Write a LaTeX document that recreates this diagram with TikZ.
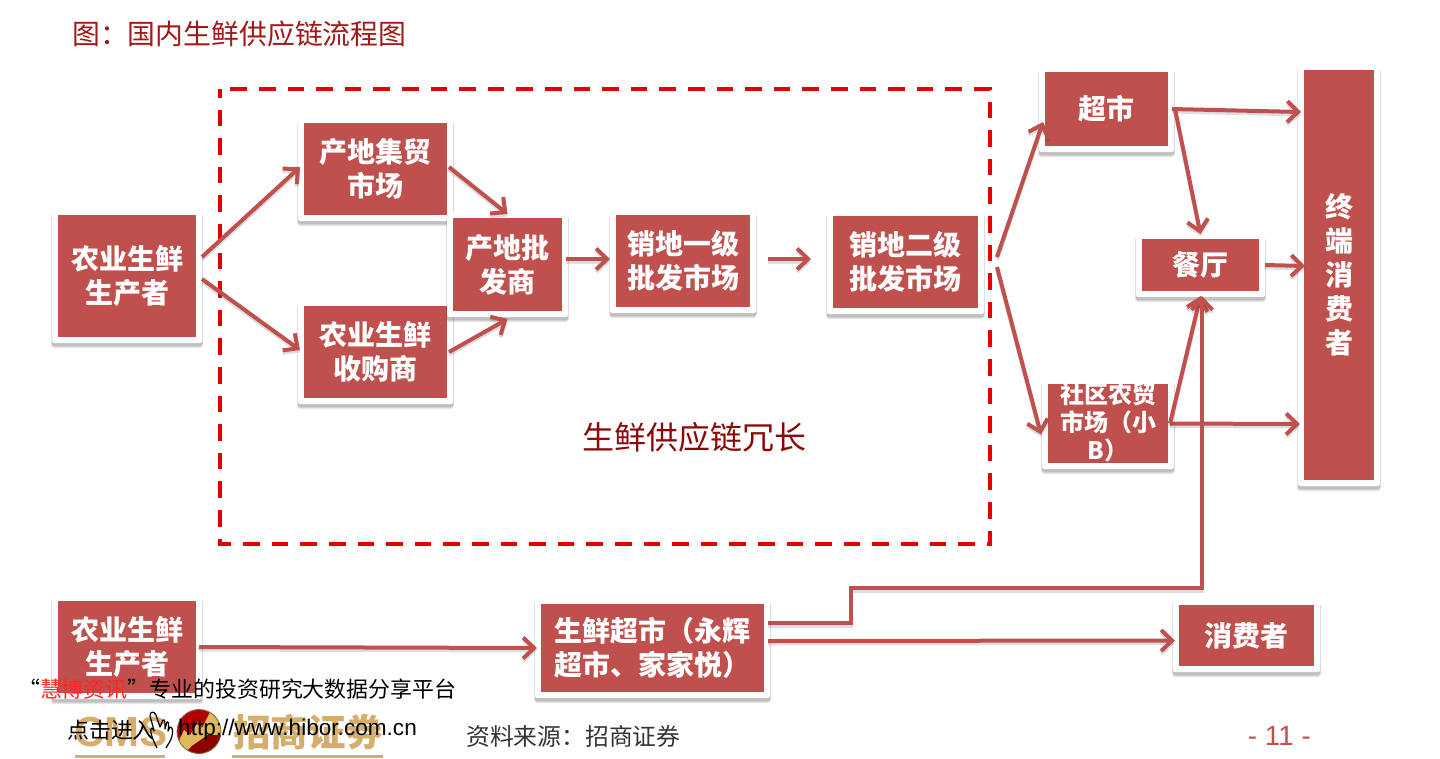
\documentclass[tikz,border=0pt]{standalone}
\usepackage{fontspec}
\setmainfont{Noto Sans CJK SC}
\newfontfamily\latinsans{Liberation Sans}
\usetikzlibrary{arrows.meta,calc}
\definecolor{boxred}{HTML}{C0504D}
\definecolor{titlered}{HTML}{A01818}
\definecolor{darkred}{HTML}{8A0A0A}
\definecolor{gold}{HTML}{D6AE6C}
\tikzset{
  rbox/.style={fill=white,draw=none,inner sep=0pt,outer sep=0pt,align=center,text=white,
    font=\fontsize{28}{34}\selectfont\bfseries,
    path picture={\fill[boxred,sharp corners] ($(path picture bounding box.south west)+(6pt,6pt)$) rectangle ($(path picture bounding box.north east)-(6pt,6pt)$);}},
  shadowlayer/.style={fill=black,fill opacity=.09,draw=none},
  arr/.style={draw=boxred,line width=4pt,-{Straight Barb[length=11pt,width=21pt,line width=4pt]},
    preaction={draw=black,draw opacity=.13,line width=4pt,transform canvas={yshift=-2.5pt}}},
  titletext/.style={text=titlered,font=\fontsize{27.85}{32}\selectfont,anchor=west,inner sep=0pt},
  wmtext/.style={font=\fontsize{21.9}{26}\selectfont,text=black,anchor=west,inner sep=0pt},
  goldtext/.style={text=gold,inner sep=0pt,anchor=west,font=\bfseries},
}
% \rb{name}{x1}{y1}{x2}{y2}{text}: box given by its inner red rectangle
\newcommand{\rb}[6]{%
  \fill[shadowlayer,rounded corners=3pt] ({#2-7},{#3-2}) rectangle ({#4+7},{#5+11});
  \fill[shadowlayer,rounded corners=3pt] ({#2-6.5},{#3-2}) rectangle ({#4+6.5},{#5+10});
  \fill[shadowlayer,rounded corners=2pt] ({#2-6},{#3-2}) rectangle ({#4+6},{#5+9});
  \node[rbox,rounded corners=2pt,minimum width={#4-#2+12},minimum height={#5-#3+12}] (#1) at ({(#2+#4)/2},{(#3+#5)/2}) {#6};}
\begin{document}
\begin{tikzpicture}[x=1pt,y=-1pt]
\useasboundingbox (0,0) rectangle (1440,758);
\fill[white] (0,0) rectangle (1440,758);

\node[titletext] (ttl) at (72,34) {图：国内生鲜供应链流程图};
\coordinate (dashA) at (220,89);
\coordinate (dashB) at (990,544);
\draw[red!90!black,line width=3.6pt,dash pattern=on 16.6pt off 12pt,dash phase=8pt] (dashA) rectangle (dashB);
\node[text=darkred,font=\fontsize{32}{36}\selectfont,inner sep=0pt] (redund) at (694.5,437) {生鲜供应链冗长};

\rb{prodA}{58}{215}{196}{337}{农业生鲜\\生产者}
\rb{jimao}{304}{123}{447}{215}{产地集贸\\市场}
\rb{shougou}{304}{306}{447}{398}{农业生鲜\\收购商}
\rb{pifa}{453}{218}{562}{311}{产地批\\发商}
\rb{yiji}{616}{215}{750}{307}{销地一级\\批发市场}
\rb{erji}{833}{216}{978}{308}{销地二级\\批发市场}
\rb{chaoshi}{1045}{72}{1168}{146}{超市}
\rb{canting}{1142}{239}{1259}{291}{餐厅}
\rb{shequ}{1048}{384}{1168}{463}{\raisebox{-11pt}{\smash{\parbox[c]{118pt}{\centering\fontsize{24}{28}\selectfont\bfseries 社区农贸\\市场（小\\B）}}}}
\rb{zhongduan}{1304}{70}{1374}{480}{终\\端\\消\\费\\者}
\rb{prodB}{58}{601}{196}{693}{农业生鲜\\生产者}
\rb{xianchao}{541}{604}{764}{692}{生鲜超市（永辉\\超市、家家悦）}
\rb{xiaofei}{1179}{605}{1314}{666}{消费者}

% connectors
\draw[arr] ([yshift=19pt]prodA.east) -- ([xshift=2pt,yshift=2pt]jimao.west);
\draw[arr] ([yshift=-3pt]prodA.east) -- ([xshift=2pt,yshift=2pt]shougou.west);
\draw[arr] ([xshift=-4pt,yshift=2pt]jimao.east) -- ([yshift=-2pt]pifa.north);
\draw[arr] ([xshift=-4pt]shougou.east) -- ([yshift=-2pt]pifa.south);
\draw[arr] ([xshift=-2pt,yshift=5.5pt]pifa.east) -- ([yshift=2pt]yiji.west);
\draw[arr] ([xshift=12pt,yshift=2pt]yiji.east) -- ([xshift=-16pt,yshift=3pt]erji.west);
\draw[arr] ([xshift=13pt,yshift=5pt]erji.east) -- ([xshift=4pt,yshift=-13pt]chaoshi.west);
\draw[arr] ([xshift=13pt,yshift=-5pt]erji.east) -- ([xshift=-1pt,yshift=-11pt]shequ.west);
\draw[arr] ([xshift=-2pt]chaoshi.east) -- ([yshift=163pt,xshift=3pt]zhongduan.west);
\draw[arr] ([xshift=1pt]chaoshi.east) -- ([yshift=-1pt]canting.north);
\draw[arr] (canting.east) -- ([xshift=7pt,yshift=9pt]zhongduan.west);
\draw[arr] ([xshift=-4pt]shequ.east) -- ([xshift=2pt,yshift=-149pt]zhongduan.west);
\draw[arr] ([xshift=-4pt]shequ.east) -- ([yshift=1pt]canting.south);
\draw[arr] ([xshift=-3pt]prodB.east) -- ([xshift=2pt]xianchao.west);
\draw[arr] ([xshift=-2pt,yshift=7pt]xianchao.east) -- ([xshift=2pt,yshift=-5pt]xiaofei.west);
\coordinate (kneeA) at (851,623);
\coordinate (kneeB) at (851,588);
\coordinate (kneeC) at (1202,588);
\draw[arr] ([xshift=-2pt,yshift=25pt]xianchao.east) -- (kneeA) -- (kneeB) -- (kneeC) -- ([xshift=1.5pt,yshift=1pt]canting.south);

% footer logo under the watermark
\node[goldtext,font=\fontsize{42}{46}\selectfont\bfseries\latinsans] (cms) at (74,732) {CMS};
\node[goldtext,font=\fontsize{37.5}{42}\selectfont\bfseries] (zs) at (233,732) {招商证券};
\fill[gold] (75,755) rectangle (165,758);
\fill[gold] (232,755) rectangle (383,758);
\begin{scope}
  \clip (199,731.5) circle (22);
  \fill[red!70!black] (175,705) rectangle (223,758);
  \fill[gold!85!yellow] (176,747) -- (184,730) -- (190,735) -- (198,722) -- (202,728) -- (210,712) -- (222,722) -- (223,735) -- (208,735) -- (192,746) -- (186,752) -- cycle;
  \fill[red!55!black] (186,752) -- (192,746) -- (208,735) -- (223,735) -- (223,758) -- (180,758) -- cycle;
\end{scope}
\draw[gold!60!black,line width=.8pt] (199,731.5) circle (22);

\node[wmtext] (slogan) at (18,689) {“\textcolor{red!85!white}{慧博资讯}”专业的投资研究大数据分享平台};
\node[wmtext] (enter) at (67,730) {点击进入};
\draw[black,line width=1.2pt,line join=round] (157,748) .. controls (155,744) and (152,738) .. (151,733) .. controls (150,728) and (152,726) .. (154,731) .. controls (153,726) and (151,720) .. (150,716) .. controls (150,711) and (154,711) .. (156,715) -- (160,727) -- (163,720) .. controls (165,719) and (165,722) .. (165,729) -- (167,722) .. controls (169,721) and (169,725) .. (168,731) -- (170,727) .. controls (173,727) and (173,732) .. (172,736) .. controls (171,741) and (168,744) .. (166,748);
\node[wmtext,font=\fontsize{22.6}{26}\selectfont\latinsans] (url) at (178,730) {http://www.hibor.com.cn};
\node[anchor=west,inner sep=0pt,font=\fontsize{23.8}{28}\selectfont,text=black!80] (src) at (466,736) {资料来源：招商证券};
\node[anchor=east,inner sep=0pt,font=\fontsize{27.8}{30}\selectfont\latinsans,text=boxred] (page) at (1311,736) {- 11 -};
\end{tikzpicture}
\end{document}
